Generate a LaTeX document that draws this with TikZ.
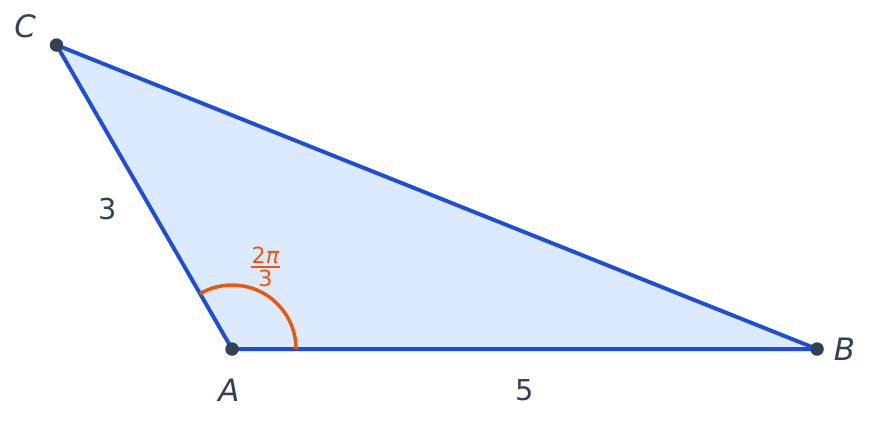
\documentclass[tikz,border=0pt]{standalone}
\usepackage{fontspec}
\setmainfont{DejaVu Sans}
\usepackage{tikz}
\usetikzlibrary{positioning,calc}
\definecolor{edgeblue}{HTML}{1D4ED8}
\definecolor{fillblue}{HTML}{DBEAFE}
\definecolor{angleorange}{HTML}{EA580C}
\definecolor{slate}{HTML}{334155}
\tikzset{
  side/.style={draw=edgeblue, line width=0.95pt, line join=round},
  vertex/.style={circle, fill=slate, inner sep=0pt, minimum size=0.115cm},
  ptlabel/.style={text=slate, font=\fontsize{7.5}{9}\selectfont\itshape, inner sep=0pt},
  lenlabel/.style={text=slate, font=\fontsize{7}{8}\selectfont, inner sep=0pt},
  fraclabel/.style={text=angleorange, font=\fontsize{5.4}{6}\selectfont, inner sep=0pt},
}
\begin{document}
\begin{tikzpicture}
                  \useasboundingbox (0,0) rectangle (7.444,-3.624);
                  \coordinate (A) at (1.983,-2.983);
                  \coordinate (B) at ($(A)+(5,0)$);
                  \coordinate (C) at ($(A)+(120:3)$);
                  \fill[fillblue] (A) -- (B) -- (C) -- cycle;
                  \draw[side] (A) -- (B) -- (C) -- cycle;
                  % angle at A
                  \draw[angleorange, line width=0.85pt] ($(A)+(0.547,0)$) arc (0:120:0.547);
                  \node[vertex] (a) at (A) {};
                  \node[vertex] (b) at (B) {};
                  \node[vertex] (c) at (C) {};
                  \node[ptlabel] (la) at ($(A)+(-0.026,-0.35)$) {A};
                  \node[ptlabel] (lb) at ($(B)+(0.235,0)$) {B};
                  \node[ptlabel] (lc) at ($(C)+(-0.269,0.158)$) {C};
                  \node[lenlabel] (l3) at (0.923,-1.782) {3};
                  \node[lenlabel] (l5) at ($(A)!0.5!(B)+(0,-0.350)$) {5};
                  % the fraction 2pi/3
                  \coordinate (bar) at (2.269,-2.282);
                  \draw[angleorange, line width=0.5pt] ($(bar)+(-0.124,0)$) -- ($(bar)+(0.124,0)$);
                  \node[fraclabel] (num) at ($(bar)+(0,0.103)$) {2{\itshape π}};
                  \node[fraclabel] (den) at ($(bar)+(0,-0.098)$) {3};
\end{tikzpicture}
\end{document}
